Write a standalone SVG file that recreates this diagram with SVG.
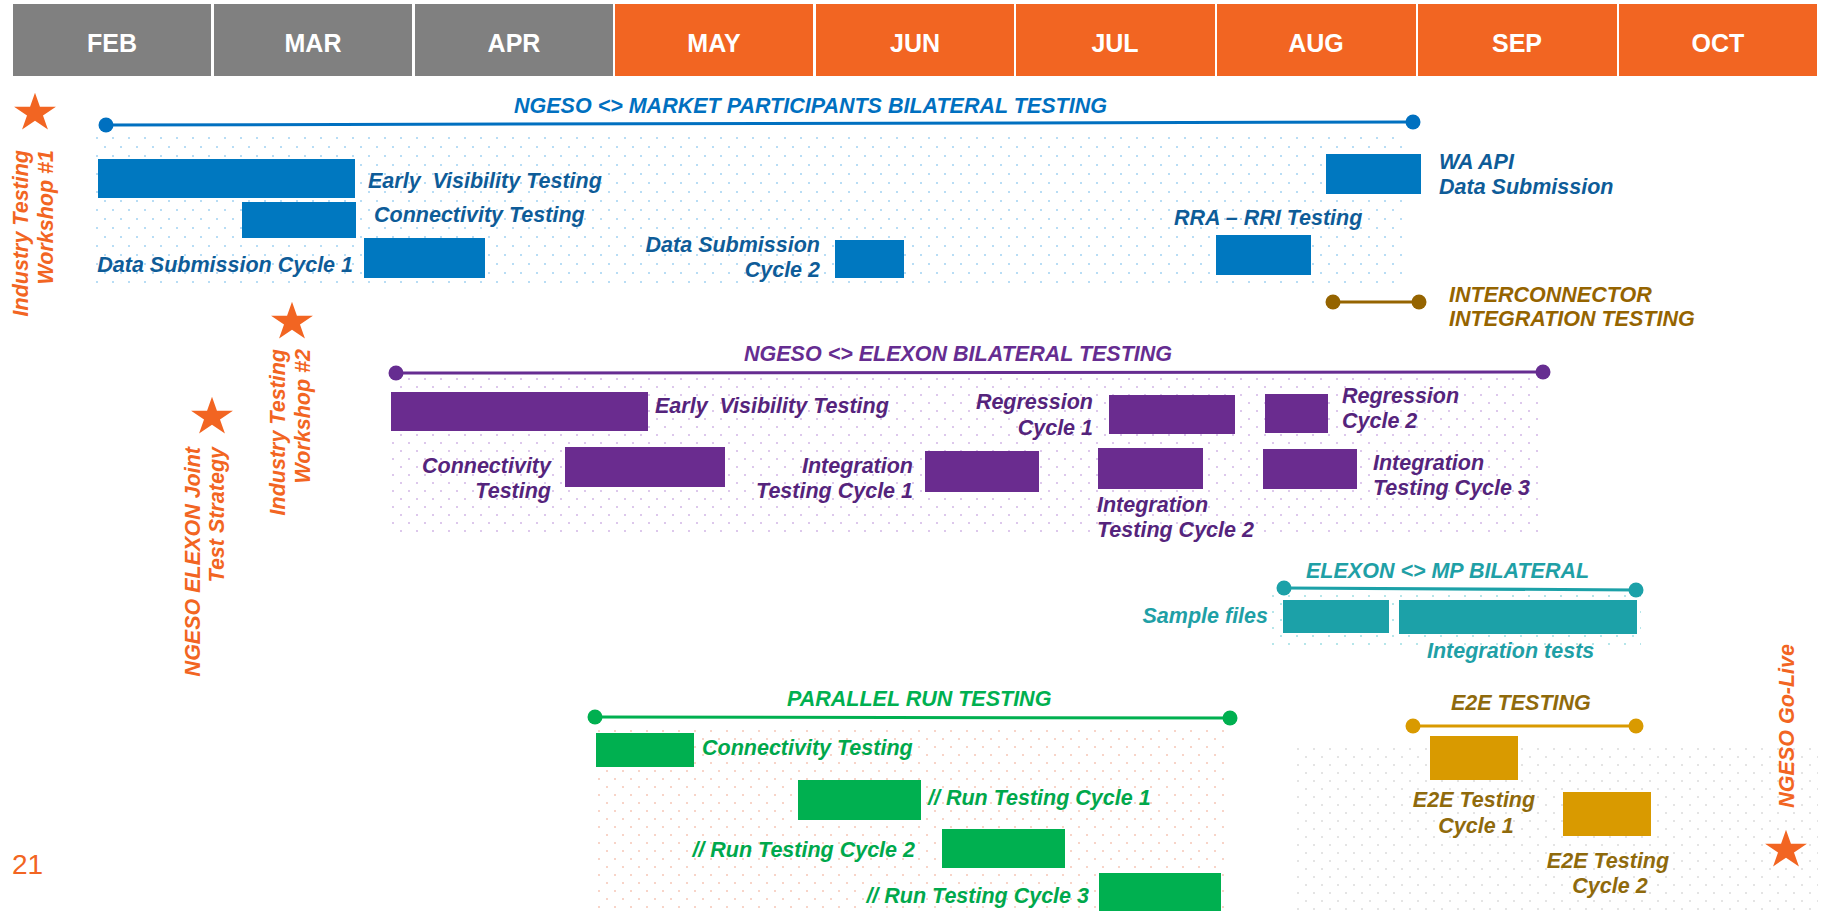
<svg xmlns="http://www.w3.org/2000/svg" width="1822" height="911" viewBox="0 0 1822 911">
<style>
text{font-family:"Liberation Sans",Arial,sans-serif;font-weight:bold;font-style:italic;font-size:21.5px}
.mon{fill:#fff;font-size:25px;font-style:normal;text-anchor:middle}
.gray{fill:#808080}.orng{fill:#F26522}
.ot{fill:#F26522}
.bT{fill:#0070C0}.bL{fill:#0E5C98}.bB{fill:#0078C0}
.pT{fill:#662D91}.pL{fill:#55247C}.pB{fill:#6A2C8F}
.tT{fill:#1FA0A6}.tB{fill:#1CA1A8}
.gT{fill:#00B050}.gL{fill:#00A84C}.gB{fill:#00B050}
.yT{fill:#8F6A0C}.yB{fill:#D99A00}.iT{fill:#956400}
.e{text-anchor:end}.m{text-anchor:middle}
</style>
<defs>
<pattern id="dB" patternUnits="userSpaceOnUse" x="96" y="137" width="16" height="18"><rect x="0" y="0" width="2" height="2" fill="#B8DDF5"/><rect x="8" y="9" width="2" height="2" fill="#B8DDF5"/></pattern>
<pattern id="dP" patternUnits="userSpaceOnUse" x="392" y="378" width="16" height="16"><rect x="0" y="0" width="2" height="2" fill="#DDC8EC"/><rect x="8" y="8" width="2" height="2" fill="#DDC8EC"/></pattern>
<pattern id="dT" patternUnits="userSpaceOnUse" x="1272" y="595" width="16" height="16"><rect x="0" y="0" width="2" height="2" fill="#B6E6EA"/><rect x="8" y="8" width="2" height="2" fill="#B6E6EA"/></pattern>
<pattern id="dG" patternUnits="userSpaceOnUse" x="598" y="730" width="16" height="16"><rect x="0" y="0" width="2" height="2" fill="#F8D4C8"/><rect x="8" y="8" width="2" height="2" fill="#F8D4C8"/></pattern>
<pattern id="dY" patternUnits="userSpaceOnUse" x="1297" y="748" width="16" height="16"><rect x="0" y="0" width="2" height="2" fill="#E4E4E4"/><rect x="8" y="8" width="2" height="2" fill="#E4E4E4"/></pattern>
<path id="star" d="M0,-22 L4.94,-6.8 L20.92,-6.8 L7.99,2.6 L12.93,17.8 L0,8.4 L-12.93,17.8 L-7.99,2.6 L-20.92,-6.8 L-4.94,-6.8 Z" fill="#F26522"/>
</defs>
<rect width="1822" height="911" fill="#fff"/>

<g id="header">
<rect class="gray" x="13" y="4" width="198" height="72"/>
<rect class="gray" x="214" y="4" width="198" height="72"/>
<rect class="gray" x="415" y="4" width="198" height="72"/>
<rect class="orng" x="615" y="4" width="198" height="72"/>
<rect class="orng" x="816" y="4" width="198" height="72"/>
<rect class="orng" x="1016" y="4" width="199" height="72"/>
<rect class="orng" x="1217" y="4" width="199" height="72"/>
<rect class="orng" x="1418" y="4" width="199" height="72"/>
<rect class="orng" x="1619" y="4" width="198" height="72"/>
<text class="mon" x="112" y="52">FEB</text>
<text class="mon" x="313" y="52">MAR</text>
<text class="mon" x="514" y="52">APR</text>
<text class="mon" x="714" y="52">MAY</text>
<text class="mon" x="915" y="52">JUN</text>
<text class="mon" x="1115" y="52">JUL</text>
<text class="mon" x="1316" y="52">AUG</text>
<text class="mon" x="1517" y="52">SEP</text>
<text class="mon" x="1718" y="52">OCT</text>
</g>

<g id="backgrounds">
<rect x="90" y="136" width="1314" height="149" fill="url(#dB)"/>
<rect x="391" y="377" width="1147" height="157" fill="url(#dP)"/>
<rect x="1271" y="595" width="370" height="50" fill="url(#dT)"/>
<rect x="597" y="730" width="632" height="181" fill="url(#dG)"/>
<rect x="1296" y="747" width="522" height="164" fill="url(#dY)"/>
</g>

<g id="connectors">
<g id="line-mp" fill="#0070C0" stroke="#0070C0">
<line x1="106" y1="125" x2="1413" y2="122" stroke-width="3"/>
<circle cx="106" cy="125" r="7.5" stroke="none"/><circle cx="1413" cy="122" r="7.5" stroke="none"/>
</g>
<g id="line-elexon" fill="#662D91" stroke="#662D91">
<line x1="396" y1="373" x2="1543" y2="372" stroke-width="3"/>
<circle cx="396" cy="373" r="7.5" stroke="none"/><circle cx="1543" cy="372" r="7.5" stroke="none"/>
</g>
<g id="line-interconnector" fill="#956400" stroke="#956400">
<line x1="1333" y1="302" x2="1419" y2="302" stroke-width="3"/>
<circle cx="1333" cy="302" r="7.5" stroke="none"/><circle cx="1419" cy="302" r="7.5" stroke="none"/>
</g>
<g id="line-elexon-mp" fill="#1CA1A8" stroke="#1CA1A8">
<line x1="1284" y1="588" x2="1636" y2="590" stroke-width="3"/>
<circle cx="1284" cy="588" r="7.5" stroke="none"/><circle cx="1636" cy="590" r="7.5" stroke="none"/>
</g>
<g id="line-parallel" fill="#00B050" stroke="#00B050">
<line x1="595" y1="717" x2="1230" y2="718" stroke-width="3"/>
<circle cx="595" cy="717" r="7.5" stroke="none"/><circle cx="1230" cy="718" r="7.5" stroke="none"/>
</g>
<g id="line-e2e" fill="#D99A00" stroke="#D99A00">
<line x1="1413" y1="726" x2="1636" y2="726" stroke-width="3"/>
<circle cx="1413" cy="726" r="7.5" stroke="none"/><circle cx="1636" cy="726" r="7.5" stroke="none"/>
</g>
</g>

<g id="titles">
<text class="bT" x="514" y="113">NGESO &lt;&gt; MARKET PARTICIPANTS BILATERAL TESTING</text>
<text class="pT" x="744" y="361">NGESO &lt;&gt; ELEXON BILATERAL TESTING</text>
<text class="tT" x="1306" y="578">ELEXON &lt;&gt; MP BILATERAL</text>
<text class="gT" x="787" y="706">PARALLEL RUN TESTING</text>
<text class="yT" x="1451" y="710">E2E TESTING</text>
<text class="iT" x="1449" y="302">INTERCONNECTOR</text>
<text class="iT" x="1449" y="326">INTEGRATION TESTING</text>
</g>

<g id="mp-early"><rect class="bB" x="98" y="159" width="257" height="39"/><text class="bL" x="368" y="188" xml:space="preserve">Early  Visibility Testing</text></g>
<g id="mp-conn"><rect class="bB" x="242" y="202" width="114" height="36"/><text class="bL" x="374" y="222">Connectivity Testing</text></g>
<g id="mp-ds1"><rect class="bB" x="364" y="238" width="121" height="40"/><text class="bL e" x="353" y="272">Data Submission Cycle 1</text></g>
<g id="mp-ds2"><rect class="bB" x="835" y="240" width="69" height="38"/><text class="bL e" x="820" y="252">Data Submission</text><text class="bL e" x="820" y="277">Cycle 2</text></g>
<g id="mp-wa"><rect class="bB" x="1326" y="154" width="95" height="40"/><text class="bL" x="1439" y="169">WA API</text><text class="bL" x="1439" y="194">Data Submission</text></g>
<g id="mp-rra"><rect class="bB" x="1216" y="235" width="95" height="40"/><text class="bL" x="1174" y="225">RRA – RRI Testing</text></g>

<g id="el-early"><rect class="pB" x="391" y="392" width="257" height="39"/><text class="pL" x="655" y="413" xml:space="preserve">Early  Visibility Testing</text></g>
<g id="el-conn"><rect class="pB" x="565" y="447" width="160" height="40"/><text class="pL e" x="551" y="473">Connectivity</text><text class="pL e" x="551" y="498">Testing</text></g>
<g id="el-int1"><rect class="pB" x="925" y="451" width="114" height="41"/><text class="pL e" x="913" y="473">Integration</text><text class="pL e" x="913" y="498">Testing Cycle 1</text></g>
<g id="el-int2"><rect class="pB" x="1098" y="448" width="105" height="41"/><text class="pL" x="1097" y="512">Integration</text><text class="pL" x="1097" y="537">Testing Cycle 2</text></g>
<g id="el-int3"><rect class="pB" x="1263" y="449" width="94" height="40"/><text class="pL" x="1373" y="470">Integration</text><text class="pL" x="1373" y="495">Testing Cycle 3</text></g>
<g id="el-reg1"><rect class="pB" x="1109" y="395" width="126" height="39"/><text class="pL e" x="1093" y="409">Regression</text><text class="pL e" x="1093" y="435">Cycle 1</text></g>
<g id="el-reg2"><rect class="pB" x="1265" y="394" width="63" height="39"/><text class="pL" x="1342" y="403">Regression</text><text class="pL" x="1342" y="428">Cycle 2</text></g>

<g id="emp-sample"><rect class="tB" x="1283" y="600" width="106" height="33"/><text class="tT e" x="1268" y="623">Sample files</text></g>
<g id="emp-int"><rect class="tB" x="1399" y="600" width="238" height="34"/><text class="tT" x="1427" y="658">Integration tests</text></g>

<g id="pr-conn"><rect class="gB" x="596" y="733" width="98" height="34"/><text class="gL" x="702" y="755">Connectivity Testing</text></g>
<g id="pr-c1"><rect class="gB" x="798" y="780" width="123" height="40"/><text class="gL" x="928" y="805">// Run Testing Cycle 1</text></g>
<g id="pr-c2"><rect class="gB" x="942" y="829" width="123" height="39"/><text class="gL e" x="915" y="857">// Run Testing Cycle 2</text></g>
<g id="pr-c3"><rect class="gB" x="1099" y="873" width="122" height="40"/><text class="gL e" x="1089" y="903">// Run Testing Cycle 3</text></g>

<g id="e2e-c1"><rect class="yB" x="1430" y="736" width="88" height="44"/><text class="yT m" x="1474" y="807">E2E Testing</text><text class="yT m" x="1476" y="833">Cycle 1</text></g>
<g id="e2e-c2"><rect class="yB" x="1563" y="792" width="88" height="44"/><text class="yT m" x="1608" y="868">E2E Testing</text><text class="yT m" x="1610" y="893">Cycle 2</text></g>

<g id="ms-workshop1"><use href="#star" transform="translate(35,113) scale(1,0.92)"/>
<text class="ot e" transform="translate(28,150) rotate(-90)">Industry Testing</text>
<text class="ot e" transform="translate(53,150) rotate(-90)">Workshop #1</text></g>
<g id="ms-workshop2"><use href="#star" transform="translate(292,322) scale(1,0.92)"/>
<text class="ot e" transform="translate(285,349) rotate(-90)">Industry Testing</text>
<text class="ot e" transform="translate(310,349) rotate(-90)">Workshop #2</text></g>
<g id="ms-strategy"><use href="#star" transform="translate(212,417) scale(1,0.92)"/>
<text class="ot e" transform="translate(200,447) rotate(-90)">NGESO ELEXON Joint</text>
<text class="ot e" transform="translate(224,447) rotate(-90)">Test Strategy</text></g>
<g id="ms-golive"><use href="#star" transform="translate(1786,850) scale(1,0.92)"/>
<text class="ot e" transform="translate(1794,644) rotate(-90)">NGESO Go-Live</text></g>

<text x="12" y="874" fill="#F26522" style="font-weight:normal;font-style:normal;font-size:28px">21</text>
</svg>
